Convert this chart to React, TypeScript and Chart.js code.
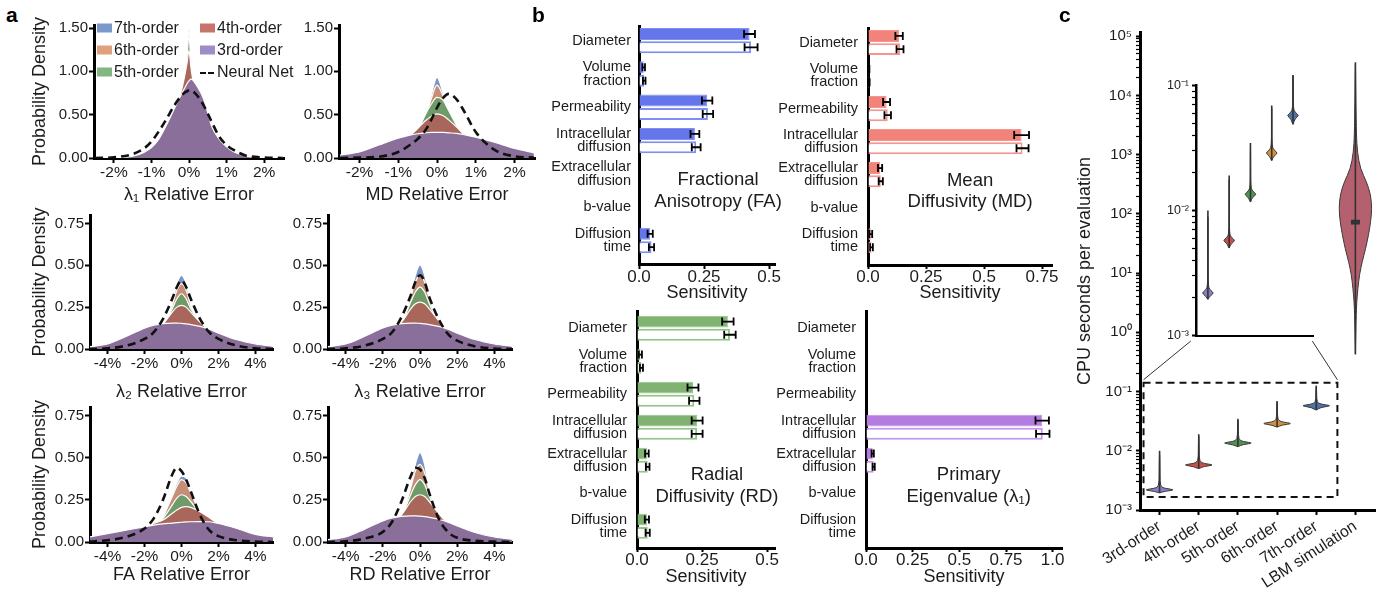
import React, { useEffect, useRef } from 'react';
import { Chart, registerables } from 'chart.js';

Chart.register(...registerables);

const FONT = '"Liberation Sans", Arial, Helvetica, sans-serif';
const INK = '#1c1c1c';
Chart.defaults.font.family = FONT;
Chart.defaults.color = INK;

// ---------------- Panel a: error densities ----------------
const legendLabels = ['7th-order', '6th-order', '5th-order', '4th-order', '3rd-order', 'Neural Net'];
const legendColors = ['#7C97CC', '#E1A07D', '#84B682', '#C8736D', '#9C8DC9', '#111111'];
const FILL = { o7: '#7D95C6', o6: '#C68E77', o5: '#6F9B69', o4: '#A9665B', o3: '#8A6F9A' };

const lam1X = [-2.5, -2, -1.5, -1.2, -1, -0.8, -0.6, -0.4, -0.2, -0.1, -0.05, 0, 0.05, 0.1, 0.2, 0.4, 0.6, 0.8, 1, 1.2, 1.5, 2, 2.5];
const lam1O3 = [0, 0.003, 0.02, 0.065, 0.12, 0.22, 0.38, 0.56, 0.74, 0.82, 0.86, 0.89, 0.91, 0.9, 0.84, 0.67, 0.37, 0.22, 0.13, 0.07, 0.025, 0.004, 0];
const lam1O4 = [0, 0.003, 0.02, 0.065, 0.12, 0.22, 0.38, 0.56, 0.78, 0.98, 1.1, 1.24, 1.05, 0.91, 0.84, 0.67, 0.37, 0.22, 0.13, 0.07, 0.025, 0.004, 0];
const lam1O5 = [0, 0.003, 0.02, 0.065, 0.12, 0.22, 0.38, 0.56, 0.78, 1.0, 1.18, 1.42, 1.1, 0.92, 0.84, 0.67, 0.37, 0.22, 0.13, 0.07, 0.025, 0.004, 0];
const lam1O6 = [0, 0.003, 0.02, 0.065, 0.12, 0.22, 0.38, 0.56, 0.78, 1.0, 1.2, 1.48, 1.12, 0.92, 0.84, 0.67, 0.37, 0.22, 0.13, 0.07, 0.025, 0.004, 0];
const lam1O7 = [0, 0.003, 0.02, 0.065, 0.12, 0.22, 0.38, 0.56, 0.78, 1.0, 1.2, 1.46, 1.12, 0.92, 0.84, 0.67, 0.37, 0.22, 0.13, 0.07, 0.025, 0.004, 0];
const lam1NN = [0, 0.008, 0.045, 0.11, 0.19, 0.31, 0.45, 0.6, 0.72, 0.76, 0.77, 0.78, 0.78, 0.77, 0.73, 0.6, 0.42, 0.25, 0.15, 0.09, 0.03, 0.006, 0];

const mdX = [-2.5, -2, -1.5, -1, -0.7, -0.5, -0.3, -0.15, 0, 0.15, 0.3, 0.5, 0.7, 1, 1.5, 2, 2.5];
const mdO3 = [0.035, 0.07, 0.15, 0.23, 0.265, 0.28, 0.29, 0.295, 0.295, 0.295, 0.29, 0.285, 0.27, 0.24, 0.18, 0.11, 0.06];
const mdO4 = [0.02, 0.05, 0.11, 0.2, 0.26, 0.34, 0.43, 0.48, 0.51, 0.49, 0.44, 0.36, 0.27, 0.18, 0.1, 0.05, 0.025];
const mdO5 = [0.015, 0.04, 0.09, 0.17, 0.24, 0.32, 0.5, 0.62, 0.7, 0.67, 0.55, 0.38, 0.24, 0.15, 0.08, 0.04, 0.02];
const mdO6 = [0.01, 0.03, 0.08, 0.15, 0.22, 0.3, 0.48, 0.68, 0.84, 0.72, 0.54, 0.36, 0.22, 0.13, 0.07, 0.035, 0.02];
const mdO7 = [0.01, 0.03, 0.07, 0.14, 0.21, 0.29, 0.46, 0.72, 0.93, 0.76, 0.53, 0.35, 0.21, 0.12, 0.06, 0.03, 0.02];
const mdNN = [0, 0.005, 0.015, 0.07, 0.15, 0.22, 0.32, 0.44, 0.58, 0.69, 0.74, 0.68, 0.54, 0.3, 0.09, 0.02, 0.005];

const wideX = [-5, -4, -3, -2, -1.5, -1, -0.5, -0.25, 0, 0.25, 0.5, 1, 1.5, 2, 3, 4, 5];

const lam2O3 = [0.013, 0.03, 0.075, 0.124, 0.142, 0.152, 0.155, 0.155, 0.153, 0.15, 0.146, 0.135, 0.118, 0.095, 0.055, 0.03, 0.015];
const lam2O4 = [0.01, 0.025, 0.06, 0.1, 0.125, 0.15, 0.22, 0.25, 0.26, 0.25, 0.22, 0.16, 0.11, 0.07, 0.035, 0.015, 0.008];
const lam2O5 = [0.008, 0.02, 0.045, 0.08, 0.1, 0.14, 0.24, 0.3, 0.33, 0.3, 0.24, 0.15, 0.09, 0.055, 0.025, 0.01, 0.005];
const lam2O6 = [0.006, 0.015, 0.035, 0.07, 0.09, 0.13, 0.26, 0.35, 0.39, 0.35, 0.26, 0.14, 0.08, 0.045, 0.02, 0.008, 0.004];
const lam2O7 = [0.005, 0.012, 0.03, 0.06, 0.085, 0.13, 0.27, 0.39, 0.44, 0.39, 0.27, 0.14, 0.075, 0.04, 0.018, 0.007, 0.003];
const lam2NN = [0, 0.004, 0.02, 0.06, 0.1, 0.18, 0.3, 0.37, 0.41, 0.37, 0.3, 0.18, 0.1, 0.06, 0.02, 0.004, 0];

const lam3O3 = [0.013, 0.03, 0.075, 0.125, 0.142, 0.152, 0.155, 0.155, 0.153, 0.15, 0.146, 0.135, 0.118, 0.095, 0.055, 0.03, 0.015];
const lam3O4 = [0.01, 0.025, 0.06, 0.1, 0.125, 0.16, 0.24, 0.27, 0.28, 0.27, 0.24, 0.17, 0.11, 0.07, 0.035, 0.015, 0.008];
const lam3O5 = [0.008, 0.02, 0.045, 0.08, 0.1, 0.15, 0.28, 0.34, 0.37, 0.34, 0.27, 0.16, 0.09, 0.055, 0.025, 0.01, 0.005];
const lam3O6 = [0.006, 0.015, 0.035, 0.07, 0.09, 0.14, 0.31, 0.4, 0.44, 0.4, 0.3, 0.15, 0.08, 0.045, 0.02, 0.008, 0.004];
const lam3O7 = [0.005, 0.012, 0.03, 0.06, 0.085, 0.14, 0.32, 0.44, 0.5, 0.44, 0.31, 0.15, 0.075, 0.04, 0.018, 0.007, 0.003];
const lam3NN = [0, 0.004, 0.02, 0.06, 0.1, 0.19, 0.32, 0.4, 0.44, 0.4, 0.31, 0.18, 0.09, 0.05, 0.015, 0.003, 0];

const faO3 = [0.03, 0.05, 0.07, 0.09, 0.1, 0.107, 0.112, 0.115, 0.117, 0.119, 0.12, 0.121, 0.12, 0.11, 0.08, 0.045, 0.03];
const faO4 = [0.02, 0.035, 0.05, 0.075, 0.11, 0.13, 0.17, 0.19, 0.205, 0.21, 0.205, 0.18, 0.145, 0.105, 0.06, 0.03, 0.018];
const faO5 = [0.015, 0.03, 0.045, 0.065, 0.09, 0.14, 0.22, 0.26, 0.28, 0.27, 0.24, 0.17, 0.12, 0.08, 0.045, 0.025, 0.015];
const faO6 = [0.012, 0.025, 0.04, 0.06, 0.08, 0.15, 0.27, 0.33, 0.37, 0.35, 0.29, 0.18, 0.11, 0.07, 0.04, 0.02, 0.012];
const faO7 = [0.01, 0.02, 0.035, 0.055, 0.075, 0.15, 0.28, 0.35, 0.39, 0.38, 0.3, 0.18, 0.1, 0.065, 0.035, 0.018, 0.01];
const faNN = [0.003, 0.01, 0.03, 0.08, 0.14, 0.25, 0.4, 0.44, 0.42, 0.37, 0.3, 0.16, 0.07, 0.035, 0.01, 0.003, 0];

const rdO3 = [0.013, 0.03, 0.075, 0.125, 0.142, 0.152, 0.155, 0.155, 0.153, 0.15, 0.146, 0.135, 0.118, 0.095, 0.055, 0.03, 0.015];
const rdO4 = [0.01, 0.025, 0.06, 0.1, 0.125, 0.16, 0.24, 0.27, 0.28, 0.27, 0.24, 0.17, 0.11, 0.07, 0.035, 0.015, 0.008];
const rdO5 = [0.008, 0.02, 0.045, 0.08, 0.1, 0.15, 0.28, 0.34, 0.37, 0.34, 0.27, 0.16, 0.09, 0.055, 0.025, 0.01, 0.005];
const rdO6 = [0.006, 0.015, 0.035, 0.07, 0.09, 0.14, 0.32, 0.42, 0.46, 0.41, 0.3, 0.15, 0.08, 0.045, 0.02, 0.008, 0.004];
const rdO7 = [0.005, 0.012, 0.03, 0.06, 0.085, 0.14, 0.33, 0.46, 0.53, 0.46, 0.31, 0.15, 0.075, 0.04, 0.018, 0.007, 0.003];
const rdNN = [0, 0.004, 0.02, 0.06, 0.12, 0.24, 0.39, 0.44, 0.43, 0.38, 0.29, 0.14, 0.06, 0.025, 0.007, 0.002, 0];

// ---------------- Panel b: sensitivities ----------------
const paramLabels: (string | string[])[] = ['Diameter', ['Volume', 'fraction'], 'Permeability', ['Intracellular', 'diffusion'], ['Extracellular', 'diffusion'], 'b-value', ['Diffusion', 'time']];

const faFilled = [0.425, 0.018, 0.262, 0.215, null, null, 0.043];
const faFilledErr = [0.021, 0.005, 0.02, 0.017, null, null, 0.01];
const faOutlined = [0.431, 0.02, 0.265, 0.22, null, null, 0.048];
const faOutlinedErr = [0.025, 0.005, 0.02, 0.017, null, null, 0.01];

const mdFilled = [0.134, 0.003, 0.08, 0.662, 0.052, null, 0.012];
const mdFilledErr = [0.016, 0.003, 0.015, 0.032, 0.009, null, 0.006];
const mdOutlined = [0.138, 0.004, 0.085, 0.666, 0.055, null, 0.015];
const mdOutlinedErr = [0.015, 0.003, 0.014, 0.026, 0.009, null, 0.006];

const rdFilled = [0.349, 0.013, 0.215, 0.231, 0.038, null, 0.038];
const rdFilledErr = [0.022, 0.006, 0.021, 0.021, 0.007, null, 0.008];
const rdOutlined = [0.357, 0.017, 0.22, 0.231, 0.041, null, 0.041];
const rdOutlinedErr = [0.022, 0.006, 0.02, 0.021, 0.007, null, 0.008];

const l1Filled = [null, 0.002, null, 0.944, 0.036, null, null];
const l1FilledErr = [null, null, null, 0.036, 0.006, null, null];
const l1Outlined = [null, 0.002, null, 0.947, 0.041, null, null];
const l1OutlinedErr = [null, null, null, 0.036, 0.006, null, null];

// ---------------- Panel c: CPU time ----------------
const cpuLabels = ['3rd-order', '4th-order', '5th-order', '6th-order', '7th-order', 'LBM simulation'];
const cpuDecades = [-3, -2, -1, 0, 1, 2, 3, 4, 5];
const insetDecades = [-3, -2, -1];
const minorMultipliers = [2, 3, 4, 5, 6, 7, 8, 9];
const orderColors = ['#8D7CC1', '#C9504A', '#4F944E', '#D48E3C', '#4C74A6'];
const lbmColor = '#B5606E';

const ord3Log = [-2.71, -2.685, -2.66, -2.635, -2.6, -2.4, -2.2, -2.0];
const ord3Dens = [0.02, 0.3, 1.0, 0.3, 0.04, 0.025, 0.02, 0];
const ord4Log = [-2.3, -2.265, -2.24, -2.215, -2.18, -2.0, -1.85, -1.72];
const ord4Dens = [0.02, 0.3, 1.0, 0.3, 0.04, 0.025, 0.02, 0];
const ord5Log = [-1.93, -1.895, -1.87, -1.845, -1.81, -1.65, -1.55, -1.46];
const ord5Dens = [0.02, 0.3, 1.0, 0.3, 0.04, 0.025, 0.02, 0];
const ord6Log = [-1.6, -1.565, -1.54, -1.515, -1.48, -1.35, -1.25, -1.16];
const ord6Dens = [0.02, 0.3, 1.0, 0.3, 0.04, 0.025, 0.02, 0];
const ord7Log = [-1.31, -1.265, -1.24, -1.215, -1.18, -1.06, -0.98, -0.9];
const ord7Dens = [0.02, 0.3, 1.0, 0.3, 0.04, 0.025, 0.02, 0];
const lbmLog = [-0.37, 0.24, 0.52, 0.74, 0.98, 1.19, 1.41, 1.65, 1.87, 2.09, 2.32, 2.54, 2.76, 3.04, 3.33, 3.88, 4.43, 4.56];
const lbmDens = [0, 0.04, 0.08, 0.15, 0.25, 0.41, 0.62, 0.8, 0.93, 1.0, 0.93, 0.68, 0.3, 0.12, 0.06, 0.03, 0.01, 0];
const lbmIqrLog = [1.82, 1.9];

// ---------------- helpers ----------------
type Frame = { l: number; t: number; r: number; b: number; yW: number; xH: number; pt: number; pr: number };

function boxOf(f: Frame) {
  return { left: f.l - f.yW, top: f.t - f.pt, width: f.yW + (f.r - f.l) + f.pr, height: f.pt + (f.b - f.t) + f.xH };
}

function ChartBox({ frame, build, z = 1 }: { frame: Frame; build: (f: Frame) => any; z?: number }) {
  const ref = useRef<HTMLCanvasElement | null>(null);
  const box = boxOf(frame);
  useEffect(() => {
    if (!ref.current) return;
    const chart = new Chart(ref.current, build(frame));
    return () => chart.destroy();
  }, []);
  return (
    <canvas
      ref={ref}
      width={box.width}
      height={box.height}
      style={{ position: 'absolute', left: box.left, top: box.top, width: box.width, height: box.height, zIndex: z }}
    />
  );
}

function baseOptions(f: Frame) {
  return {
    responsive: false,
    maintainAspectRatio: false,
    animation: false,
    events: [],
    devicePixelRatio: 1,
    layout: { padding: { left: 0, top: f.pt, right: f.pr, bottom: 0 } },
    plugins: { legend: { display: false }, tooltip: { enabled: false }, title: { display: false } },
  };
}

const axisLine = { display: true, color: '#000', width: 3 };
function tickGrid(len: number, width: any = 2) {
  return { display: true, drawOnChartArea: false, drawTicks: true, tickLength: len, tickWidth: width, tickColor: '#000' };
}

// ---------------- density charts ----------------
type DensityPanel = {
  x: number[]; o3: number[]; o4: number[]; o5: number[]; o6: number[]; o7: number[]; nn: number[];
  xr: number; xStep: number; yMax: number; yStep: number; title: string;
  yTitle: boolean; legend: boolean; titlePad: number; yTitlePad: number;
};

const densityLegend = {
  id: 'densityLegend',
  afterDraw(chart: any) {
    const { ctx, chartArea: a } = chart;
    ctx.save();
    ctx.font = `16px ${FONT}`;
    ctx.textBaseline = 'middle';
    ctx.textAlign = 'left';
    legendLabels.forEach((label, i) => {
      const col = i < 3 ? 0 : 1;
      const row = i % 3;
      const x = a.left + (col ? 106 : 3);
      const y = a.top + 3 + row * 22;
      if (i === 5) {
        ctx.strokeStyle = legendColors[i];
        ctx.lineWidth = 1.8;
        ctx.beginPath();
        ctx.moveTo(x, y + 1); ctx.lineTo(x + 6, y + 1);
        ctx.moveTo(x + 8, y + 1); ctx.lineTo(x + 14, y + 1);
        ctx.stroke();
      } else {
        ctx.fillStyle = legendColors[i];
        ctx.fillRect(x, y - 4.5, 15, 9);
      }
      ctx.fillStyle = INK;
      ctx.fillText(label, x + 17, y + 1);
    });
    ctx.restore();
  },
};

function densityConfig(p: DensityPanel) {
  return (f: Frame) => {
    const mk = (ys: number[]) => p.x.map((x, i) => ({ x, y: ys[i] }));
    const area = (label: string, ys: number[], color: string, order: number) => ({
      label, data: mk(ys), backgroundColor: color, borderColor: '#ffffff', borderWidth: 1.2,
      fill: 'origin', pointRadius: 0, cubicInterpolationMode: 'monotone', order,
    });
    return {
      type: 'line',
      data: {
        datasets: [
          { label: 'Neural Net', data: mk(p.nn), borderColor: '#111', borderWidth: 2.6, borderDash: [8, 5], fill: false, pointRadius: 0, cubicInterpolationMode: 'monotone', order: 0 },
          area('3rd-order', p.o3, FILL.o3, 1),
          area('4th-order', p.o4, FILL.o4, 2),
          area('5th-order', p.o5, FILL.o5, 3),
          area('6th-order', p.o6, FILL.o6, 4),
          area('7th-order', p.o7, FILL.o7, 5),
        ],
      },
      options: {
        ...baseOptions(f),
        scales: {
          x: {
            type: 'linear', min: -p.xr, max: p.xr,
            border: axisLine, grid: tickGrid(5),
            ticks: { stepSize: p.xStep, includeBounds: false, padding: 2, font: { size: 15.5, lineHeight: 1 }, color: INK, callback: (v: number) => `${v}%` },
            title: { display: true, text: p.title, color: INK, font: { size: 18 }, padding: { top: 0, bottom: p.titlePad } },
            afterFit: (s: any) => { s.height = f.xH; },
          },
          y: {
            type: 'linear', min: 0, max: p.yMax,
            border: axisLine, grid: tickGrid(5),
            ticks: { stepSize: p.yStep, includeBounds: false, padding: 1, font: { size: 15 }, color: INK, callback: (v: number) => v.toFixed(2) },
            title: { display: p.yTitle, text: 'Probability Density', color: INK, font: { size: 18 }, padding: { top: p.yTitlePad, bottom: 0 } },
            afterFit: (s: any) => { s.width = f.yW; },
          },
        },
      },
      plugins: p.legend ? [densityLegend] : [],
    };
  };
}

// ---------------- sensitivity charts ----------------
type SensPanel = {
  filled: (number | null)[]; filledErr: (number | null)[]; outlined: (number | null)[]; outlinedErr: (number | null)[];
  color: string; edge: string; xMax: number; yMin: number; yMax: number;
  note: string[]; noteX: number; noteY: number[]; labelPad: number; titlePad: number;
};

const errorBarPlugin = {
  id: 'errorBars',
  afterDatasetsDraw(chart: any) {
    const { ctx } = chart;
    const xs = chart.scales.x;
    chart.data.datasets.forEach((ds: any, di: number) => {
      const meta = chart.getDatasetMeta(di);
      (ds.errors || []).forEach((e: number | null, i: number) => {
        const v = ds.data[i] ? ds.data[i].x : null;
        if (e == null || v == null) return;
        const el = meta.data[i];
        if (!el) return;
        const y = el.y;
        const x1 = xs.getPixelForValue(v - e);
        const x2 = xs.getPixelForValue(v + e);
        ctx.save();
        ctx.strokeStyle = '#000';
        ctx.lineWidth = 1.8;
        ctx.beginPath();
        ctx.moveTo(x1, y); ctx.lineTo(x2, y);
        ctx.moveTo(x1, y - 4); ctx.lineTo(x1, y + 4);
        ctx.moveTo(x2, y - 4); ctx.lineTo(x2, y + 4);
        ctx.stroke();
        ctx.restore();
      });
    });
  },
};

function notePlugin(lines: string[], xv: number, yv: number[]) {
  return {
    id: 'panelNote',
    afterDraw(chart: any) {
      const { ctx } = chart;
      const xs = chart.scales.x;
      const ys = chart.scales.y;
      ctx.save();
      ctx.font = `18.5px ${FONT}`;
      ctx.fillStyle = INK;
      ctx.textAlign = 'center';
      ctx.textBaseline = 'middle';
      lines.forEach((line, k) => ctx.fillText(line, xs.getPixelForValue(xv), ys.getPixelForValue(yv[k])));
      ctx.restore();
    },
  };
}

const fmtSens = (v: number) => (v === 0 ? '0.0' : v === 1 ? '1.0' : String(v));

function sensConfig(s: SensPanel) {
  return (f: Frame) => {
    const pts = (vals: (number | null)[]) => vals.map((v, i) => ({ x: v, y: i }));
    return {
      type: 'bar',
      data: {
        datasets: [
          { label: 'filled', data: pts(s.filled), backgroundColor: s.color, borderColor: s.edge, borderWidth: 1, errors: s.filledErr },
          { label: 'outlined', data: pts(s.outlined), backgroundColor: '#ffffff', borderColor: s.edge, borderWidth: 2, errors: s.outlinedErr },
        ],
      },
      options: {
        ...baseOptions(f),
        indexAxis: 'y',
        scales: {
          x: {
            type: 'linear', min: 0, max: s.xMax,
            border: axisLine, grid: tickGrid(4),
            ticks: { stepSize: 0.25, includeBounds: false, padding: 0, font: { size: 17, lineHeight: 1 }, color: INK, callback: fmtSens },
            title: { display: true, text: 'Sensitivity', color: INK, font: { size: 18 }, padding: { top: 0, bottom: s.titlePad } },
            afterFit: (sc: any) => { sc.height = f.xH; },
          },
          y: {
            type: 'linear', reverse: true, offset: false, min: s.yMin, max: s.yMax,
            border: axisLine,
            grid: { display: true, drawOnChartArea: false, drawTicks: false, offset: false },
            ticks: {
              stepSize: 1, includeBounds: false, autoSkip: false, padding: s.labelPad,
              font: { size: 14.5, lineHeight: 0.92 }, color: INK,
              callback: (v: number) => (Number.isInteger(v) && paramLabels[v] !== undefined ? paramLabels[v] : ''),
            },
            afterFit: (sc: any) => { sc.width = f.yW; },
          },
        },
      },
      plugins: [errorBarPlugin, notePlugin(s.note, s.noteX, s.noteY)],
    };
  };
}

// ---------------- violin charts ----------------
type Violin = { idx: number; logs: number[]; dens: number[]; color: string; half: number; iqr?: number[] };

function smoothPath(ctx: any, pts: number[][]) {
  ctx.moveTo(pts[0][0], pts[0][1]);
  for (let i = 1; i < pts.length - 1; i++) {
    const mx = (pts[i][0] + pts[i + 1][0]) / 2;
    const my = (pts[i][1] + pts[i + 1][1]) / 2;
    ctx.quadraticCurveTo(pts[i][0], pts[i][1], mx, my);
  }
  ctx.lineTo(pts[pts.length - 1][0], pts[pts.length - 1][1]);
}

function violinPlugin(violins: Violin[]) {
  return {
    id: 'violins',
    afterDatasetsDraw(chart: any) {
      const { ctx } = chart;
      const xs = chart.scales.x;
      const ys = chart.scales.y;
      const unit = Math.abs(xs.getPixelForValue(1) - xs.getPixelForValue(0));
      ctx.save();
      violins.forEach((v) => {
        const xc = xs.getPixelForValue(v.idx);
        const ptsY = v.logs.map((lg) => ys.getPixelForValue(Math.pow(10, lg)));
        const w = v.dens.map((d) => d * v.half * unit);
        const left = ptsY.map((y, k) => [xc - w[k], y]);
        const right = ptsY.map((y, k) => [xc + w[k], y]).reverse();
        ctx.beginPath();
        smoothPath(ctx, left.concat(right.slice(1)));
        ctx.closePath();
        ctx.fillStyle = v.color;
        ctx.fill();
        ctx.strokeStyle = '#3a3a3a';
        ctx.lineWidth = 1;
        ctx.stroke();
        ctx.beginPath();
        ctx.moveTo(xc, ptsY[0]);
        ctx.lineTo(xc, ptsY[ptsY.length - 1]);
        ctx.strokeStyle = '#333';
        ctx.lineWidth = 1.6;
        ctx.stroke();
        if (v.iqr) {
          const y1 = ys.getPixelForValue(Math.pow(10, v.iqr[0]));
          const y2 = ys.getPixelForValue(Math.pow(10, v.iqr[1]));
          ctx.fillStyle = '#333';
          ctx.fillRect(xc - 4.5, Math.min(y1, y2), 9, Math.max(3, Math.abs(y1 - y2)));
        }
      });
      ctx.restore();
    },
  };
}

const SUP: Record<string, string> = { '-': '⁻', '0': '⁰', '1': '¹', '2': '²', '3': '³', '4': '⁴', '5': '⁵' };
const isPow10 = (v: number) => Math.abs(Math.log10(v) - Math.round(Math.log10(v))) < 1e-9;
const powLabel = (v: number) => '10' + String(Math.round(Math.log10(v))).split('').map((c) => SUP[c] || c).join('');

function logTicks(decades: number[], maxVal: number) {
  const out: { value: number; major: boolean }[] = [];
  decades.forEach((d) => {
    const base = Math.pow(10, d);
    if (base <= maxVal * 1.0001) out.push({ value: base, major: true });
    minorMultipliers.forEach((m) => {
      if (m * base <= maxVal * 1.0001) out.push({ value: m * base, major: false });
    });
  });
  return out;
}

const orderViolins = (half: number): Violin[] => [
  { idx: 0, logs: ord3Log, dens: ord3Dens, color: orderColors[0], half },
  { idx: 1, logs: ord4Log, dens: ord4Dens, color: orderColors[1], half },
  { idx: 2, logs: ord5Log, dens: ord5Dens, color: orderColors[2], half },
  { idx: 3, logs: ord6Log, dens: ord6Dens, color: orderColors[3], half },
  { idx: 4, logs: ord7Log, dens: ord7Dens, color: orderColors[4], half },
];

const zoomBoxX = [-0.41, 4.54];
const zoomBoxY = [0.00165, 0.1406];
const insetCornerX = [0.795, 3.9];
const insetCornerY = 0.711;

const zoomBoxPlugin = {
  id: 'zoomBox',
  afterDraw(chart: any) {
    const { ctx } = chart;
    const xs = chart.scales.x;
    const ys = chart.scales.y;
    const x0 = xs.getPixelForValue(zoomBoxX[0]);
    const x1 = xs.getPixelForValue(zoomBoxX[1]);
    const yTop = ys.getPixelForValue(zoomBoxY[1]);
    const yBot = ys.getPixelForValue(zoomBoxY[0]);
    ctx.save();
    ctx.strokeStyle = '#111';
    ctx.lineWidth = 2;
    ctx.setLineDash([7, 5]);
    ctx.strokeRect(x0, yTop, x1 - x0, yBot - yTop);
    ctx.setLineDash([]);
    ctx.lineWidth = 1;
    ctx.strokeStyle = '#333';
    const cy = ys.getPixelForValue(insetCornerY);
    ctx.beginPath();
    ctx.moveTo(x0, yTop - 3); ctx.lineTo(xs.getPixelForValue(insetCornerX[0]), cy);
    ctx.moveTo(x1, yTop - 3); ctx.lineTo(xs.getPixelForValue(insetCornerX[1]), cy);
    ctx.stroke();
    ctx.restore();
  },
};

function cpuMainConfig(f: Frame) {
  const yMax = Math.pow(10, 5.07);
  return {
    type: 'line',
    data: { labels: cpuLabels, datasets: [] },
    options: {
      ...baseOptions(f),
      scales: {
        x: {
          type: 'category', offset: true,
          border: axisLine,
          grid: { display: true, drawOnChartArea: false, drawTicks: true, tickLength: 5, tickWidth: 2, tickColor: '#000', offset: false },
          ticks: { autoSkip: false, maxRotation: 33, minRotation: 33, padding: 2, font: { size: 16 }, color: INK },
          afterFit: (s: any) => { s.height = f.xH; },
        },
        y: {
          type: 'logarithmic', min: 1e-3, max: yMax,
          border: axisLine,
          grid: { display: true, drawOnChartArea: false, drawTicks: true, tickLength: 4, tickColor: '#000', tickWidth: (c: any) => (c.tick && c.tick.major ? 2 : 1.2) },
          afterBuildTicks: (s: any) => { s.ticks = logTicks(cpuDecades, yMax); },
          ticks: { autoSkip: false, padding: 4, font: { size: 15 }, color: INK, callback: (v: number) => (isPow10(v) ? powLabel(v) : '') },
          title: { display: true, text: 'CPU seconds per evaluation', color: INK, font: { size: 18 }, padding: { top: 2, bottom: 0 } },
          afterFit: (s: any) => { s.width = f.yW; },
        },
      },
    },
    plugins: [
      violinPlugin([
        ...orderViolins(0.41),
        { idx: 5, logs: lbmLog, dens: lbmDens, color: lbmColor, half: 0.42, iqr: lbmIqrLog },
      ]),
      zoomBoxPlugin,
    ],
  };
}

function cpuInsetConfig(f: Frame) {
  return {
    type: 'line',
    data: { datasets: [] },
    options: {
      ...baseOptions(f),
      scales: {
        x: {
          type: 'linear', min: -0.56, max: 4.94,
          border: { display: true, color: '#000', width: 2 },
          grid: { display: true, drawOnChartArea: false, drawTicks: false },
          ticks: { display: false },
          afterFit: (s: any) => { s.height = f.xH; },
        },
        y: {
          type: 'logarithmic', min: 1e-3, max: 1e-1,
          border: { display: true, color: '#000', width: 2.5 },
          grid: { display: true, drawOnChartArea: false, drawTicks: true, tickLength: 4, tickColor: '#000', tickWidth: (c: any) => (c.tick && c.tick.major ? 2 : 1.2) },
          afterBuildTicks: (s: any) => { s.ticks = logTicks(insetDecades, 1e-1); },
          ticks: { autoSkip: false, padding: 3, font: { size: 12.5 }, color: INK, callback: (v: number) => (isPow10(v) ? powLabel(v) : '') },
          afterFit: (s: any) => { s.width = f.yW; },
        },
      },
    },
    plugins: [violinPlugin(orderViolins(0.3))],
  };
}

// ---------------- panel definitions ----------------
const densPanels: { frame: Frame; panel: DensityPanel }[] = [
  { frame: { l: 94, t: 25, r: 284, b: 158, yW: 70, xH: 50, pt: 10, pr: 12 },
    panel: { x: lam1X, o3: lam1O3, o4: lam1O4, o5: lam1O5, o6: lam1O6, o7: lam1O7, nn: lam1NN, xr: 2.53, xStep: 1, yMax: 1.535, yStep: 0.5, title: 'λ₁ Relative Error', yTitle: true, legend: true, titlePad: 2, yTitlePad: 5 } },
  { frame: { l: 339, t: 25, r: 535, b: 158, yW: 55, xH: 50, pt: 10, pr: 10 },
    panel: { x: mdX, o3: mdO3, o4: mdO4, o5: mdO5, o6: mdO6, o7: mdO7, nn: mdNN, xr: 2.53, xStep: 1, yMax: 1.535, yStep: 0.5, title: 'MD Relative Error', yTitle: false, legend: false, titlePad: 2, yTitlePad: 0 } },
  { frame: { l: 90, t: 215, r: 273, b: 349, yW: 70, xH: 56, pt: 10, pr: 10 },
    panel: { x: wideX, o3: lam2O3, o4: lam2O4, o5: lam2O5, o6: lam2O6, o7: lam2O7, nn: lam2NN, xr: 4.95, xStep: 2, yMax: 0.8, yStep: 0.25, title: 'λ₂ Relative Error', yTitle: true, legend: false, titlePad: 2, yTitlePad: 9 } },
  { frame: { l: 328, t: 215, r: 512, b: 349, yW: 55, xH: 56, pt: 10, pr: 10 },
    panel: { x: wideX, o3: lam3O3, o4: lam3O4, o5: lam3O5, o6: lam3O6, o7: lam3O7, nn: lam3NN, xr: 4.95, xStep: 2, yMax: 0.8, yStep: 0.25, title: 'λ₃ Relative Error', yTitle: false, legend: false, titlePad: 2, yTitlePad: 0 } },
  { frame: { l: 90, t: 407, r: 273, b: 542, yW: 70, xH: 46, pt: 10, pr: 10 },
    panel: { x: wideX, o3: faO3, o4: faO4, o5: faO5, o6: faO6, o7: faO7, nn: faNN, xr: 4.95, xStep: 2, yMax: 0.8, yStep: 0.25, title: 'FA Relative Error', yTitle: true, legend: false, titlePad: 2, yTitlePad: 9 } },
  { frame: { l: 328, t: 407, r: 512, b: 542, yW: 55, xH: 46, pt: 10, pr: 10 },
    panel: { x: wideX, o3: rdO3, o4: rdO4, o5: rdO5, o6: rdO6, o7: rdO7, nn: rdNN, xr: 4.95, xStep: 2, yMax: 0.8, yStep: 0.25, title: 'RD Relative Error', yTitle: false, legend: false, titlePad: 2, yTitlePad: 0 } },
];

const sensPanels: { frame: Frame; panel: SensPanel }[] = [
  { frame: { l: 639, t: 22, r: 775, b: 265, yW: 94, xH: 42, pt: 10, pr: 20 },
    panel: { filled: faFilled, filledErr: faFilledErr, outlined: faOutlined, outlinedErr: faOutlinedErr, color: '#6476EA', edge: '#7F8EF2', xMax: 0.523, yMin: -0.42, yMax: 6.735, note: ['Fractional', 'Anisotropy (FA)'], noteX: 0.304, noteY: [4.18, 4.83], labelPad: 8, titlePad: 3 } },
  { frame: { l: 868, t: 22, r: 1052, b: 265, yW: 94, xH: 42, pt: 10, pr: 14 },
    panel: { filled: mdFilled, filledErr: mdFilledErr, outlined: mdOutlined, outlinedErr: mdOutlinedErr, color: '#F2837B', edge: '#F4968F', xMax: 0.793, yMin: -0.42, yMax: 6.735, note: ['Mean', 'Diffusivity (MD)'], noteX: 0.44, noteY: [4.18, 4.83], labelPad: 10, titlePad: 3 } },
  { frame: { l: 637, t: 305, r: 775, b: 548, yW: 94, xH: 42, pt: 10, pr: 20 },
    panel: { filled: rdFilled, filledErr: rdFilledErr, outlined: rdOutlined, outlinedErr: rdOutlinedErr, color: '#80B272', edge: '#93C387', xMax: 0.53, yMin: -0.5, yMax: 6.66, note: ['Radial', 'Diffusivity (RD)'], noteX: 0.307, noteY: [4.45, 5.1], labelPad: 10, titlePad: 2 } },
  { frame: { l: 866, t: 305, r: 1062, b: 548, yW: 94, xH: 42, pt: 10, pr: 14 },
    panel: { filled: l1Filled, filledErr: l1FilledErr, outlined: l1Outlined, outlinedErr: l1OutlinedErr, color: '#B47BE0', edge: '#C394EA', xMax: 1.05, yMin: -0.5, yMax: 6.66, note: ['Primary', 'Eigenvalue (λ₁)'], noteX: 0.55, noteY: [4.45, 5.1], labelPad: 10, titlePad: 2 } },
];

const cpuMainFrame: Frame = { l: 1140, t: 29, r: 1375, b: 510, yW: 68, xH: 88, pt: 10, pr: 21 };
const cpuInsetFrame: Frame = { l: 1196, t: 83, r: 1313, b: 340, yW: 42, xH: 6, pt: 8, pr: 4 };

const letterStyle: React.CSSProperties = {
  position: 'absolute', fontWeight: 700, fontSize: 21, lineHeight: '21px', color: '#000', fontFamily: FONT, zIndex: 5,
};

export default function App() {
  return (
    <div style={{ position: 'absolute', left: 0, top: 0, width: 1396, height: 598, background: '#ffffff', overflow: 'hidden', fontFamily: FONT }}>
      <div style={{ ...letterStyle, left: 6, top: 4 }}>a</div>
      <div style={{ ...letterStyle, left: 532, top: 4 }}>b</div>
      <div style={{ ...letterStyle, left: 1059, top: 4 }}>c</div>
      {densPanels.map((d, i) => (
        <ChartBox key={`d${i}`} frame={d.frame} build={densityConfig(d.panel)} />
      ))}
      {sensPanels.map((s, i) => (
        <ChartBox key={`s${i}`} frame={s.frame} build={sensConfig(s.panel)} />
      ))}
      <ChartBox frame={cpuMainFrame} build={cpuMainConfig} z={1} />
      <ChartBox frame={cpuInsetFrame} build={cpuInsetConfig} z={2} />
    </div>
  );
}
